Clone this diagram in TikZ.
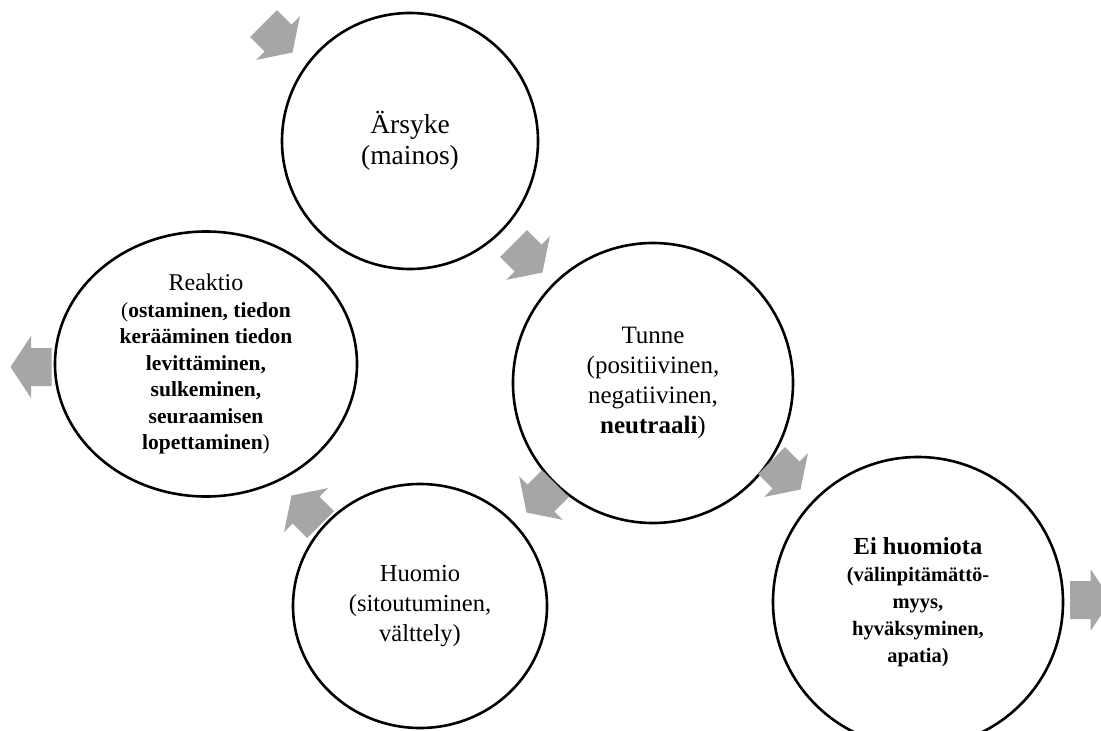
\documentclass[tikz,border=0pt]{standalone}
\usepackage{fontspec}
\setmainfont{Liberation Serif}
\usetikzlibrary{shapes.geometric}
\definecolor{arrowfill}{RGB}{166,166,166}
\newcommand{\blockarrow}[3]{%
  \fill[arrowfill,shift={(#1,#2)},rotate=#3]
    (-20.5,-19) -- (0,-19) -- (0,-31) -- (20.5,0) -- (0,31) -- (0,19) -- (-20.5,19) -- cycle;}
\begin{document}
\begin{tikzpicture}[x=1pt,y=1pt,
  bubble/.style={ellipse, draw=black, line width=2.6pt, inner sep=0pt, align=center}]
\useasboundingbox (0,0) rectangle (1101,-731);

\node[bubble, minimum width=256pt, minimum height=256pt,
      font={\fontsize{27.5}{31}\selectfont}] (arsyke) at (410,-141)
  {\raisebox{-5pt}{Ärsyke}\\\raisebox{-5pt}{(mainos)}};

\node[bubble, minimum width=302pt, minimum height=265pt,
      font={\fontsize{21.5}{26.5}\selectfont}] (reaktio) at (206,-364)
  {{\fontsize{24}{26.5}\selectfont Reaktio}\\
   (\textbf{ostaminen, tiedon}\\
   \textbf{kerääminen tiedon}\\
   \textbf{levittäminen,}\\
   \textbf{sulkeminen,}\\
   \textbf{seuraamisen}\\
   \textbf{lopettaminen})};

\node[bubble, minimum width=280pt, minimum height=280pt,
      font={\fontsize{25}{30}\selectfont}] (tunne) at (653,-383)
  {Tunne\\(positiivinen,\\negatiivinen,\\\textbf{neutraali})};

\node[bubble, minimum width=290pt, minimum height=290pt,
      font={\fontsize{20.5}{27}\selectfont}] (eihuomiota) at (918,-602)
  {{\fontsize{24.5}{27}\selectfont\bfseries Ei huomiota}\\
   \textbf{(välinpitämättö-}\\
   \textbf{myys,}\\
   \textbf{hyväksyminen,}\\
   \textbf{apatia)}};

\node[bubble, minimum width=254pt, minimum height=244pt,
      font={\fontsize{24.5}{30}\selectfont}] (huomio) at (420,-606)
  {Huomio\\(sitoutuminen,\\välttely)};

\blockarrow{278}{-38}{-45}
\blockarrow{528}{-258}{-45}
\blockarrow{541}{-498}{-135}
\blockarrow{786}{-475}{-45}
\blockarrow{306}{-510}{135}
\blockarrow{31}{-367}{180}
\blockarrow{1090.5}{-600}{0}
\end{tikzpicture}
\end{document}
